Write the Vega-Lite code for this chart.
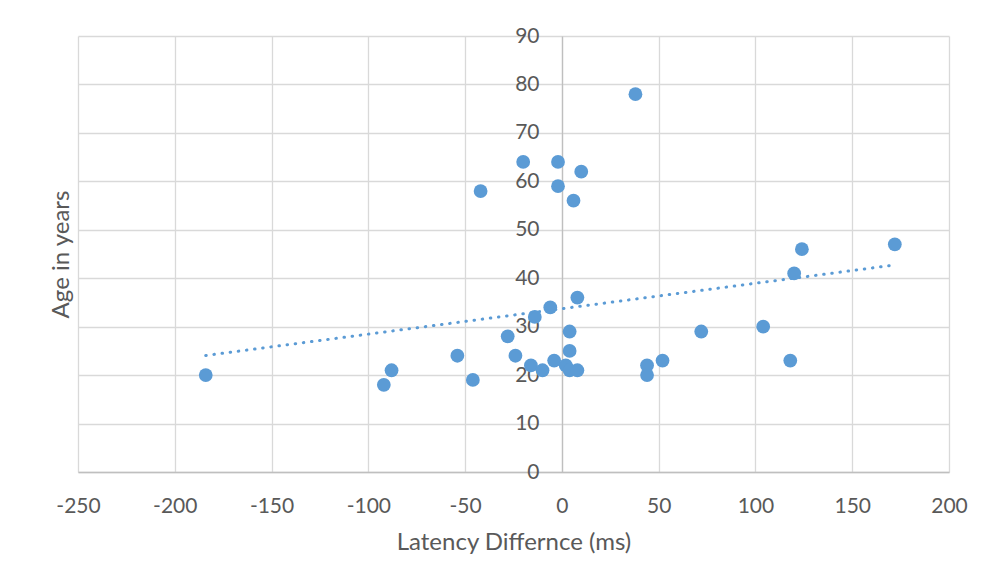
{
  "$schema": "https://vega.github.io/schema/vega-lite/v6.json",
  "autosize": "none",
  "width": 871,
  "height": 436,
  "padding": {"left": 78, "top": 36, "right": 33, "bottom": 114},
  "background": "white",
  "config": {"view": {"stroke": null}, "font": "Lato"},
  "data": {
    "values": [
      {"latency": -184, "age": 20},
      {"latency": -92, "age": 18},
      {"latency": -88, "age": 21},
      {"latency": -54, "age": 24},
      {"latency": -46, "age": 19},
      {"latency": -42, "age": 58},
      {"latency": -28, "age": 28},
      {"latency": -24, "age": 24},
      {"latency": -20, "age": 64},
      {"latency": -16, "age": 22},
      {"latency": -14, "age": 32},
      {"latency": -10, "age": 21},
      {"latency": -6, "age": 34},
      {"latency": -4, "age": 23},
      {"latency": -2, "age": 64},
      {"latency": -2, "age": 59},
      {"latency": 2, "age": 22},
      {"latency": 4, "age": 29},
      {"latency": 4, "age": 25},
      {"latency": 4, "age": 21},
      {"latency": 6, "age": 56},
      {"latency": 8, "age": 36},
      {"latency": 8, "age": 21},
      {"latency": 10, "age": 62},
      {"latency": 38, "age": 78},
      {"latency": 44, "age": 22},
      {"latency": 44, "age": 20},
      {"latency": 52, "age": 23},
      {"latency": 72, "age": 29},
      {"latency": 104, "age": 30},
      {"latency": 118, "age": 23},
      {"latency": 120, "age": 41},
      {"latency": 124, "age": 46},
      {"latency": 172, "age": 47}
    ]
  },
  "layer": [
    {
      "mark": {"type": "circle", "size": 190, "color": "#5B9BD5", "opacity": 1},
      "encoding": {
        "x": {
          "field": "latency",
          "type": "quantitative",
          "scale": {"domain": [-250, 200], "nice": false, "zero": false},
          "axis": {
            "values": [-250, -200, -150, -100, -50, 0, 50, 100, 150, 200],
            "labelExpr": "datum.value < 0 ? '-' + abs(datum.value) : '' + datum.value",
            "title": "Latency Differnce (ms)",
            "grid": true,
            "gridColor": "#d9d9d9",
            "gridWidth": 1.3,
            "domainColor": "#bfbfbf",
            "domainWidth": 1.3,
            "ticks": false,
            "tickSize": 0,
            "labelPadding": 23,
            "labelFontSize": 21,
            "labelColor": "#595959",
            "labelFlush": false,
            "labelOverlap": false,
            "titleFontSize": 24,
            "titleFontWeight": "normal",
            "titleColor": "#595959",
            "titlePadding": 14
          }
        },
        "y": {
          "field": "age",
          "type": "quantitative",
          "scale": {"domain": [0, 90], "nice": false},
          "axis": {
            "values": [0, 10, 20, 30, 40, 50, 60, 70, 80, 90],
            "title": "Age in years",
            "offset": -484,
            "grid": true,
            "gridColor": "#d9d9d9",
            "gridWidth": 1.3,
            "domainColor": "#bfbfbf",
            "domainWidth": 1.3,
            "ticks": false,
            "tickSize": 0,
            "labelPadding": 23,
            "labelFontSize": 21,
            "labelColor": "#595959",
            "labelFlush": false,
            "labelOverlap": false,
            "titleFontSize": 24,
            "titleFontWeight": "normal",
            "titleColor": "#595959",
            "titleX": -501,
            "titleY": 218,
            "titleBaseline": "middle",
            "titleAlign": "center",
            "titleAngle": -90
          }
        }
      }
    },
    {
      "transform": [{"regression": "age", "on": "latency"}],
      "mark": {"type": "line", "color": "#5B9BD5", "strokeWidth": 3, "strokeDash": [0.5, 7.7], "strokeCap": "round"},
      "encoding": {
        "x": {"field": "latency", "type": "quantitative"},
        "y": {"field": "age", "type": "quantitative"}
      }
    }
  ]
}
